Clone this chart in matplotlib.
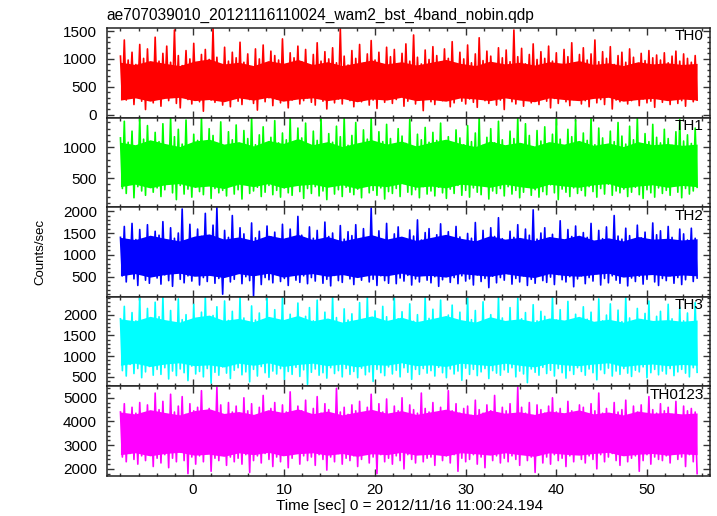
import numpy as np
import matplotlib
matplotlib.use("Agg")
import matplotlib.pyplot as plt
from matplotlib.ticker import MultipleLocator

plt.rcParams['font.family'] = ['Liberation Sans', 'DejaVu Sans']

title = "ae707039010_20121116110024_wam2_bst_4band_nobin.qdp"
xlabel = "Time [sec] 0 = 2012/11/16 11:00:24.194"
ylabel = "Counts/sec"

t_start = -8.0
t_end = 55.5

band_names = ["TH0", "TH1", "TH2", "TH3", "TH0123"]
band_colors = ["#ff0000", "#00ff00", "#0000ff", "#00ffff", "#ff00ff"]

# counts/sec (left to right)
th0 = [1050, 300, 1340, 260, 980, 420, 1120, 180, 900, 350, 1260, 240, 1010, 90, 1180, 330, 870, 210, 1390, 280,
       960, 150, 1100, 380, 1230, 250, 940, 310, 1520, 200, 1060, 120, 880, 400, 1150, 270, 1000, 190, 1280, 340,
       920, 230, 1080, 60, 1170, 300, 990, 260, 1550, 220, 1030, 370, 890, 170, 1210, 290, 960, 140, 1120, 320,
       1020, 240, 1300, 180, 940, 410, 1090, 270, 860, 200, 1180, 80, 1000, 350, 1250, 230, 910, 300, 1140, 160,
       1060, 280, 980, 210, 1360, 330, 900, 120, 1110, 260, 1020, 390, 1230, 190, 950, 250, 1170, 300, 870, 220,
       1080, 170, 1290, 310, 960, 240, 1130, 100, 1000, 360, 1200, 210, 930, 280, 1540, 190, 1050, 330, 890, 250,
       1150, 140, 1010, 300, 1260, 230, 920, 380, 1090, 170, 1330, 260, 980, 110, 1120, 290, 900, 220, 1210, 320,
       1040, 200, 1170, 270, 880, 350, 1100, 150, 1270, 240, 960, 310, 1430, 190, 1030, 260, 910, 70, 1160, 300,
       990, 230, 1220, 180, 1060, 330, 940, 250, 1180, 290, 1010, 140, 1310, 210, 900, 360, 1120, 240, 1000, 190,
       1250, 280, 930, 220, 1090, 130, 1380, 300, 970, 250, 1140, 200, 1050, 340, 880, 170, 1200, 260, 1020, 90,
       1160, 310, 950, 230, 1520, 190, 1040, 280, 1190, 150, 910, 330, 1080, 210, 1270, 260, 990, 180, 1130, 300,
       1010, 240, 1230, 120, 960, 290, 1110, 200, 870, 350, 1170, 230, 1040, 160, 1290, 270, 920, 310, 1080, 190,
       1200, 250, 980, 140, 1090, 300, 1340, 210, 950, 270, 1130, 180, 1010, 330, 1220, 100, 900, 260, 1060, 230,
       1120, 290, 940, 190, 1180, 250, 1030, 320, 890, 160, 1100, 280, 970, 210, 1150, 240, 1020, 130, 1070, 300,
       980, 220, 1110, 270, 930, 180, 1050, 310, 1140, 200, 960, 250, 1090, 150, 1010, 290, 940, 230, 1060, 260]

th1 = [1150, 330, 1420, 250, 1080, 400, 1260, 180, 990, 360, 1480, 290, 1130, 220, 1350, 410, 1020, 270, 1240, 340,
       1090, 200, 1380, 310, 1000, 430, 1470, 260, 1170, 150, 1290, 380, 1050, 240, 1440, 320, 980, 190, 1210, 350,
       1110, 280, 1480, 230, 1030, 390, 1300, 170, 1190, 330, 1060, 260, 1410, 300, 970, 210, 1250, 370, 1120, 240,
       1360, 310, 1010, 160, 1270, 420, 1140, 250, 1480, 290, 1040, 350, 1200, 200, 1330, 270, 990, 380, 1160, 230,
       1430, 300, 1070, 190, 1230, 340, 1120, 260, 1480, 220, 1000, 400, 1310, 280, 1150, 170, 1390, 330, 1040, 250,
       1260, 360, 1110, 210, 1460, 290, 980, 150, 1220, 370, 1080, 240, 1340, 310, 1170, 200, 1480, 350, 1030, 270,
       1190, 230, 1400, 320, 1050, 180, 1280, 390, 1130, 260, 1480, 300, 1010, 220, 1250, 340, 1090, 160, 1370, 280,
       1140, 250, 1020, 330, 1300, 200, 1180, 410, 1060, 270, 1450, 230, 990, 310, 1210, 180, 1120, 360, 1320, 240,
       1080, 290, 1240, 210, 1110, 350, 1390, 260, 1000, 170, 1170, 320, 1060, 250, 1280, 380, 1150, 220, 1040, 300,
       1350, 190, 1090, 340, 1230, 270, 1480, 230, 1030, 400, 1160, 160, 1300, 290, 1070, 250, 1420, 330, 1120, 210,
       1010, 360, 1260, 240, 1140, 300, 1480, 180, 1050, 270, 1380, 350, 1190, 220, 1000, 310, 1270, 190, 1100, 280,
       1330, 230, 1060, 390, 1210, 260, 1480, 150, 1130, 320, 1020, 270, 1290, 200, 1170, 340, 1440, 250, 1080, 300,
       1230, 210, 1110, 360, 1470, 280, 1040, 190, 1310, 330, 1150, 240, 1000, 400, 1260, 220, 1090, 290, 1400, 260,
       1180, 320, 1050, 200, 1340, 270, 1120, 350, 1480, 230, 1010, 170, 1220, 310, 1090, 260, 1370, 190, 1160, 340,
       1070, 250, 1290, 300, 1140, 220, 1030, 380, 1250, 270, 1450, 180, 1100, 330, 1200, 240, 1060, 290, 1310, 350]

th2 = [1400, 520, 1650, 380, 1280, 600, 1720, 450, 1350, 300, 1580, 560, 1230, 420, 1690, 350, 1310, 610, 1540, 470,
       1450, 330, 1760, 540, 1300, 410, 1620, 280, 1380, 590, 1500, 440, 2050, 360, 1260, 520, 1700, 400, 1340, 570,
       1590, 310, 1420, 480, 1950, 390, 1330, 620, 1680, 350, 2080, 460, 1270, 100, 1560, 530, 1400, 380, 1900, 440,
       1360, 590, 1620, 340, 1480, 500, 1250, 410, 1730, 60, 1390, 570, 1540, 320, 1300, 480, 1660, 430, 1410, 360,
       1520, 550, 1280, 390, 1700, 460, 1370, 300, 1590, 610, 1330, 420, 1880, 370, 1450, 520, 1240, 340, 1640, 480,
       1380, 400, 1560, 560, 1290, 350, 1750, 440, 1420, 290, 1500, 530, 1310, 410, 1670, 370, 1360, 600, 1530, 450,
       1440, 320, 1690, 490, 1270, 420, 1600, 560, 1350, 380, 2070, 440, 1400, 300, 1550, 520, 1260, 410, 1720, 350,
       1320, 580, 1480, 340, 1640, 470, 1390, 400, 1270, 530, 1570, 310, 1430, 450, 1800, 380, 1340, 560, 1510, 420,
       1600, 360, 1290, 500, 1460, 280, 1710, 430, 1350, 590, 1530, 370, 1260, 480, 1650, 340, 1410, 520, 1300, 400,
       1490, 450, 1380, 310, 1740, 540, 1280, 390, 1560, 460, 1330, 250, 1620, 510, 1420, 360, 1850, 480, 1370, 420,
       1280, 570, 1540, 330, 1400, 460, 1690, 380, 1310, 520, 1590, 300, 1450, 440, 2030, 350, 1360, 590, 1500, 410,
       1620, 370, 1300, 490, 1470, 320, 1350, 550, 1780, 430, 1260, 380, 1580, 500, 1420, 270, 1660, 450, 1330, 520,
       1510, 340, 1400, 480, 1720, 400, 1290, 570, 1560, 310, 1370, 460, 1640, 360, 1280, 520, 1900, 420, 1430, 350,
       1360, 540, 1610, 290, 1440, 470, 1300, 390, 1680, 510, 1390, 330, 1520, 440, 1270, 580, 1730, 380, 1460, 300,
       1550, 460, 1320, 410, 1650, 520, 1400, 350, 1290, 480, 1590, 320, 1480, 430, 1340, 550, 1610, 390, 1380, 470]

th3 = [1900, 650, 2200, 520, 1750, 800, 2050, 580, 1850, 700, 2430, 480, 1800, 620, 2150, 750, 1700, 540, 2300, 680,
       1950, 560, 2430, 720, 1820, 450, 2100, 640, 1760, 530, 2380, 690, 1880, 600, 2000, 410, 1720, 760, 2250, 570,
       1840, 630, 2060, 500, 2430, 700, 1780, 350, 1980, 610, 2190, 540, 1710, 740, 2330, 590, 1860, 460, 2080, 660,
       1790, 720, 2430, 550, 1920, 620, 1740, 380, 2210, 680, 1870, 520, 2040, 750, 1770, 600, 2400, 490, 1900, 640,
       2120, 570, 1810, 700, 2430, 440, 1730, 630, 2010, 560, 1890, 730, 2280, 510, 1760, 670, 1960, 320, 2170, 610,
       1850, 690, 2350, 540, 1790, 600, 2060, 470, 1720, 720, 2430, 580, 1930, 650, 1780, 500, 2140, 700, 1870, 560,
       2020, 630, 1760, 480, 2290, 710, 1880, 550, 2430, 620, 1740, 390, 2090, 680, 1820, 600, 2200, 530, 1950, 740,
       1780, 570, 2410, 660, 1900, 500, 2070, 720, 1730, 610, 2260, 440, 1840, 680, 2000, 560, 1770, 700, 2430, 590,
       1910, 650, 2130, 520, 1800, 730, 2350, 600, 1750, 480, 1990, 690, 2230, 570, 1860, 640, 2060, 420, 1790, 710,
       2430, 560, 1880, 680, 2100, 530, 1740, 620, 2310, 700, 1830, 460, 2000, 650, 1760, 590, 2430, 540, 1920, 670,
       1820, 610, 2170, 720, 1770, 500, 2400, 640, 1900, 570, 2050, 360, 1730, 690, 2240, 610, 1850, 540, 2080, 730,
       1960, 580, 1790, 660, 2430, 520, 1870, 700, 2120, 600, 1750, 470, 2320, 650, 1820, 560, 2010, 720, 1780, 630,
       2190, 540, 1890, 690, 2060, 600, 1740, 430, 2380, 670, 1850, 580, 1990, 710, 2260, 520, 1770, 640, 2110, 560,
       1830, 700, 2430, 590, 1920, 510, 1760, 660, 2150, 620, 1880, 740, 2030, 480, 2330, 600, 1790, 680, 1960, 550,
       2080, 640, 1810, 570, 2250, 700, 1900, 530, 1750, 620, 2180, 680, 1850, 590, 2040, 500, 1770, 720, 2290, 610]

th0123 = [4400, 2500, 4750, 2300, 4200, 2650, 4600, 2400, 4350, 2200, 4800, 2550, 4150, 2350, 4700, 2600, 4300, 2100, 5200, 2450,
          4500, 2250, 4850, 2600, 4250, 2050, 5150, 2450, 4400, 2300, 4650, 2700, 5050, 2350, 4300, 1800, 4750, 2500, 4450, 2200,
          4600, 2550, 5300, 2300, 4350, 2650, 4550, 1900, 4200, 2450, 5450, 2350, 4700, 2600, 4250, 2150, 4800, 2500, 4400, 2300,
          4650, 2450, 4300, 2200, 5000, 2600, 4450, 1850, 4750, 2350, 4200, 2550, 4600, 2250, 5100, 2650, 4350, 2400, 4550, 2100,
          4800, 2500, 4250, 2300, 4700, 2600, 4400, 2050, 5250, 2450, 4300, 2700, 4650, 2200, 4450, 2550, 4900, 2350, 4200, 2500,
          4550, 2150, 5050, 2600, 4350, 2400, 4750, 1950, 4500, 2500, 4250, 2300, 5400, 2650, 4400, 2200, 4600, 2450, 4300, 2350,
          4700, 2550, 4450, 2100, 4850, 2400, 4200, 2650, 4600, 2250, 5150, 2500, 4350, 1800, 4750, 2600, 4400, 2300, 4950, 2450,
          4300, 2200, 4650, 2550, 4450, 2350, 5000, 2000, 4250, 2600, 4700, 2400, 4500, 2250, 4350, 2700, 5200, 2300, 4550, 2450,
          4400, 2500, 4800, 2150, 4300, 2650, 4600, 2350, 4200, 2550, 5300, 2250, 4450, 2600, 4750, 1900, 4350, 2450, 4550, 2300,
          4650, 2400, 4250, 2600, 4900, 2200, 4500, 2500, 4350, 2050, 4700, 2650, 4450, 2350, 5100, 2550, 4300, 2250, 4600, 2450,
          4450, 2300, 4750, 2550, 4200, 2400, 5450, 2150, 4600, 2650, 4350, 2350, 4800, 2500, 4250, 1850, 4700, 2600, 4500, 2250,
          4350, 2500, 4650, 2200, 5000, 2600, 4400, 2350, 4550, 2450, 4300, 2100, 4850, 2550, 4450, 2300, 4250, 2650, 4700, 2400,
          4600, 2250, 4300, 2550, 4750, 2400, 4450, 2000, 5200, 2600, 4350, 2300, 4550, 2500, 4200, 2650, 4800, 2350, 4400, 2150,
          4500, 2600, 4900, 2300, 4250, 2450, 4650, 2550, 4400, 1900, 4700, 2350, 4300, 2600, 5050, 2200, 4500, 2500, 4350, 2400,
          4750, 2350, 4450, 2550, 4600, 2250, 4300, 2650, 4850, 2400, 4200, 2500, 4650, 2100, 4450, 2600, 4550, 2300, 4400, 1800]

# densely filled part of each trace (upper / lower edge), read every ~1.6 s
core_hi = [
    [940, 900, 970, 920, 880, 960, 1000, 910, 940, 880, 970, 920, 990, 900, 950, 880, 930, 980, 910, 950,
     890, 940, 990, 920, 880, 960, 910, 940, 890, 950, 920, 970, 900, 930, 880, 950, 910, 930, 900, 920],
    [1080, 1040, 1120, 1060, 1010, 1100, 1130, 1050, 1090, 1020, 1110, 1060, 1140, 1040, 1090, 1010, 1070, 1120, 1050, 1100,
     1020, 1080, 1130, 1060, 1010, 1100, 1040, 1080, 1020, 1090, 1050, 1110, 1030, 1070, 1010, 1090, 1040, 1060, 1030, 1050],
    [1400, 1350, 1450, 1380, 1320, 1430, 1480, 1360, 1410, 1330, 1450, 1380, 1470, 1350, 1420, 1320, 1390, 1460, 1360, 1430,
     1330, 1400, 1470, 1380, 1320, 1440, 1360, 1400, 1330, 1420, 1370, 1450, 1340, 1390, 1320, 1420, 1360, 1380, 1340, 1370],
    [1900, 1850, 1960, 1880, 1820, 1940, 1990, 1860, 1910, 1830, 1960, 1880, 1980, 1850, 1920, 1820, 1890, 1970, 1860, 1940,
     1830, 1900, 1980, 1880, 1820, 1950, 1860, 1900, 1830, 1920, 1870, 1960, 1840, 1890, 1820, 1920, 1860, 1880, 1840, 1870],
    [4400, 4320, 4500, 4380, 4280, 4460, 4540, 4340, 4420, 4300, 4500, 4380, 4530, 4330, 4440, 4280, 4400, 4510, 4350, 4460,
     4300, 4410, 4520, 4380, 4280, 4480, 4350, 4410, 4300, 4440, 4370, 4490, 4320, 4400, 4280, 4440, 4350, 4380, 4320, 4360],
]
core_lo = [
    [260, 300, 240, 290, 310, 250, 270, 230, 300, 260, 310, 240, 280, 300, 250, 290, 230, 280, 260, 310,
     250, 270, 240, 300, 280, 250, 300, 260, 230, 300, 270, 250, 290, 310, 240, 270, 290, 250, 280, 260],
    [360, 400, 340, 390, 410, 350, 370, 330, 400, 360, 410, 340, 380, 400, 350, 390, 330, 380, 360, 410,
     350, 370, 340, 400, 380, 350, 400, 360, 330, 400, 370, 350, 390, 410, 340, 370, 390, 350, 380, 360],
    [520, 570, 490, 550, 580, 510, 530, 480, 570, 520, 580, 490, 540, 570, 510, 550, 480, 540, 520, 580,
     510, 530, 490, 570, 540, 510, 570, 520, 480, 570, 530, 510, 550, 580, 490, 530, 550, 510, 540, 520],
    [780, 830, 750, 810, 840, 770, 790, 740, 830, 780, 840, 750, 800, 830, 770, 810, 740, 800, 780, 840,
     770, 790, 750, 830, 800, 770, 830, 780, 740, 830, 790, 770, 810, 840, 750, 790, 810, 770, 800, 780],
    [2600, 2680, 2550, 2650, 2700, 2580, 2620, 2530, 2680, 2600, 2700, 2550, 2640, 2680, 2580, 2650, 2530, 2640, 2600, 2700,
     2580, 2620, 2550, 2680, 2640, 2580, 2680, 2600, 2530, 2680, 2620, 2580, 2650, 2700, 2550, 2620, 2650, 2580, 2640, 2600],
]

series = [th0, th1, th2, th3, th0123]
ylims = [(-55, 1555), (27, 1479), (40, 2090), (270, 2430), (1700, 5480)]
ymajor = [500, 500, 500, 500, 1000]
yminor = [100, 100, 100, 100, 200]

fig = plt.figure(figsize=(7.17, 5.16), dpi=100)
gs = fig.add_gridspec(5, 1, left=0.149, right=0.990, top=0.9457, bottom=0.0775, hspace=0)

fs = 11
axes = []
for i in range(5):
    ax = fig.add_subplot(gs[i], sharex=axes[0] if axes else None)
    vals = np.array(series[i], dtype=float)
    t = np.linspace(t_start, t_end, len(vals))
    tc = np.linspace(t_start, t_end, len(core_lo[i]))
    ax.fill_between(tc, core_lo[i], core_hi[i], color=band_colors[i], lw=0, zorder=1)
    ax.plot(t, vals, color=band_colors[i], lw=1.2, zorder=2)
    ax.set_ylim(*ylims[i])
    ax.set_xlim(-9.5, 56.9)
    ax.yaxis.set_major_locator(MultipleLocator(ymajor[i]))
    ax.yaxis.set_minor_locator(MultipleLocator(yminor[i]))
    ax.xaxis.set_major_locator(MultipleLocator(10))
    ax.xaxis.set_minor_locator(MultipleLocator(2))
    ax.tick_params(which='both', direction='in', top=True, right=True, width=1.0,
                   color='#333333', labelsize=fs)
    ax.tick_params(which='major', length=5)
    ax.tick_params(which='minor', length=2.5)
    ax.tick_params(axis='y', pad=7)
    ax.tick_params(axis='x', pad=5)
    for sp in ax.spines.values():
        sp.set_linewidth(1.1)
        sp.set_color('#222222')
        sp.set_zorder(3)
    ax.text(0.990, 0.985, band_names[i], transform=ax.transAxes, ha='right', va='top', fontsize=fs, zorder=4)
    if i < 4:
        ax.tick_params(labelbottom=False)
    axes.append(ax)

fig.text(0.149, 0.961, title, ha='left', va='baseline', fontsize=11.2)
fig.text(40 / 717, 1 - 252 / 516, ylabel, rotation=90, ha='center', va='center', fontsize=9.5)
fig.text(410 / 717, 1 - 506 / 516, xlabel, ha='center', va='center', fontsize=fs)

fig.savefig("out.png", dpi=100)
